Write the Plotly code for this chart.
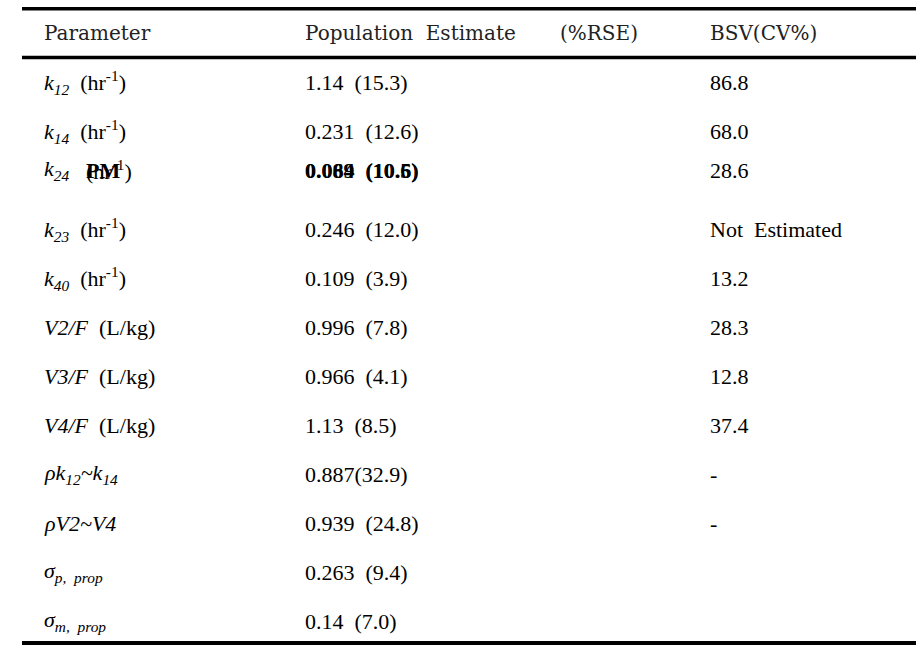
"""Population PK parameter table, redrawn with plotly annotations."""

import plotly.graph_objects as go

NB = "\u00a0"

header = ["Parameter", "Population  Estimate", "(%RSE)", "BSV(CV%)"]

params = [
    "<i>k</i><sub><i>12</i></sub>" + NB * 2 + "(hr<sup>-1</sup>)",
    "<i>k</i><sub><i>14</i></sub>" + NB * 2 + "(hr<sup>-1</sup>)",
    "<i>k</i><sub><i>24</i></sub>",
    "<i>k</i><sub><i>23</i></sub>" + NB * 2 + "(hr<sup>-1</sup>)",
    "<i>k</i><sub><i>40</i></sub>" + NB * 2 + "(hr<sup>-1</sup>)",
    "<i>V2/F</i>" + NB * 2 + "(L/kg)",
    "<i>V3/F</i>" + NB * 2 + "(L/kg)",
    "<i>V4/F</i>" + NB * 2 + "(L/kg)",
    "<i>ρk</i><sub><i>12</i></sub><i>~k</i><sub><i>14</i></sub>",
    "<i>ρV2~V4</i>",
    "<i>σ</i><sub><i>p,</i>" + NB * 2 + "<i>prop</i></sub>",
    "<i>σ</i><sub><i>m,</i>" + NB * 2 + "<i>prop</i></sub>",
]

estimates = [
    "1.14  (15.3)",
    "0.231  (12.6)",
    "0.069  (10.6)",
    "0.246  (12.0)",
    "0.109  (3.9)",
    "0.996  (7.8)",
    "0.966  (4.1)",
    "1.13  (8.5)",
    "0.887(32.9)",
    "0.939  (24.8)",
    "0.263  (9.4)",
    "0.14  (7.0)",
]

bsv = ["86.8", "68.0", "28.6", "Not  Estimated", "13.2", "28.3", "12.8", "37.4",
       "-", "-", "", ""]

# the k24 row in the source is a garbled overprint of two text runs
garbled_row = 2
garbled_param = ["(hr<sup>-1</sup>)", "<b>PM</b>"]
garbled_est = ["<b>0.084  (10.5)</b>", "<b>0.069  (10.6)</b>"]

col_x = [42, 303, 558, 708]
row0_y, row_h = 82, 49
head_font = "DejaVu Serif, serif"
body_font = "Liberation Serif, Times New Roman, serif"


def nb(s):
    return s.replace("  ", NB * 2)


def row_y(i):
    y = row0_y + row_h * i
    if i == garbled_row:
        y -= 10
    return y


ann = []
for x, h in zip(col_x, header):
    ann.append(dict(x=x, y=33, text=nb(h),
                    font=dict(size=20, color="#222", family=head_font)))

for i, (p, e, b) in enumerate(zip(params, estimates, bsv)):
    y = row_y(i)
    ann.append(dict(x=col_x[0], y=y, text=p, font=dict(size=22)))
    if i == garbled_row:
        for t in garbled_param:
            ann.append(dict(x=col_x[0] + 42, y=y, text=t, font=dict(size=22)))
        for t in garbled_est:
            ann.append(dict(x=col_x[1], y=y, text=nb(t), font=dict(size=22)))
    else:
        ann.append(dict(x=col_x[1], y=y, text=nb(e), font=dict(size=22)))
    if b:
        ann.append(dict(x=col_x[3], y=y, text=nb(b), font=dict(size=22)))

for a in ann:
    a.update(xref="x", yref="y", xanchor="left", yanchor="middle", showarrow=False)
    a["font"].setdefault("color", "black")
    a["font"].setdefault("family", body_font)

rules = [(8.7, 3.5), (57.5, 3.5), (643, 4)]
shapes = [dict(type="line", xref="x", yref="y", x0=22, x1=916, y0=y, y1=y,
               line=dict(color="black", width=w)) for y, w in rules]

fig = go.Figure()
fig.update_layout(
    width=916, height=646,
    margin=dict(l=0, r=0, t=0, b=0),
    paper_bgcolor="white", plot_bgcolor="white",
    xaxis=dict(range=[0, 916], visible=False, fixedrange=True),
    yaxis=dict(range=[646, 0], visible=False, fixedrange=True),
    annotations=ann, shapes=shapes, showlegend=False,
)
fig.write_html("out.html", config={"displayModeBar": False},
               post_script="document.body.style.margin='0';")
